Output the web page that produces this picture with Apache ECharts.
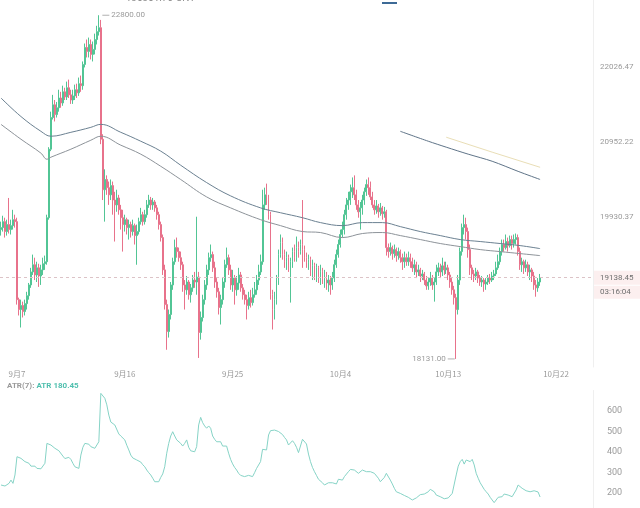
<!DOCTYPE html>
<html><head><meta charset="utf-8">
<script src="https://cdn.jsdelivr.net/npm/echarts@6/dist/echarts.min.js"></script>
<style>html,body{margin:0;padding:0;background:#fff}#c{width:640px;height:508px}</style>
</head><body><div id="c"></div>
<script>
const opens = [
19764,19790,19869,19738,19830,19764,19816,19895,19869,18862,
18738,18788,18713,18812,18912,19048,19214,19306,19175,19266,
19162,19240,19319,19345,19921,20852,21297,21478,21339,21436,
21576,21505,21665,21591,21724,21621,21547,21606,21695,21650,
21783,21754,22064,22315,22256,22360,22212,22286,22434,22552,
22611,20991,20296,20435,20324,20227,20352,20157,20092,20185,
20026,19921,19830,19895,19790,19830,19738,19816,19685,19738,
19869,19961,19869,19961,20092,20157,20092,20131,20052,19961,
19830,19659,19240,18800,18465,18676,19048,19345,19528,19476,
19397,19306,19048,18986,19085,18924,19011,19110,19085,19148,
18453,18639,18862,19048,19240,19397,19437,19266,19085,18961,
18763,18862,19085,19306,19397,19240,19048,19135,18986,19073,
19175,19011,18924,18862,18788,18887,18825,18924,18986,19110,
19214,19345,20092,20227,20157,19961,18924,18738,18862,19110,
19437,19594,19437,19345,19397,19292,19345,19476,19397,19528,
19476,19568,19502,19397,19332,19371,19240,19292,19188,19266,
19162,19214,19135,19175,19073,19110,19048,19135,19306,19437,
19568,19699,19764,19961,20092,20157,20268,20324,20227,20092,
20000,20052,20157,20268,20366,20324,20199,20092,20026,20078,
20000,20052,19974,20000,19528,19476,19528,19450,19502,19424,
19476,19397,19345,19397,19345,19397,19345,19266,19306,19214,
19240,19162,19188,19110,19036,19085,19135,19048,19085,19214,
19266,19214,19292,19240,19266,19175,19085,18986,18887,18738,
19110,19476,19790,19830,19738,19502,19266,19188,19162,19214,
19135,19085,19110,19060,19085,19135,19110,19162,19188,19266,
19345,19476,19568,19528,19607,19554,19633,19581,19633,19659,
19476,19306,19345,19266,19306,19214,19240,19162,19048,19011,
19085];
const closes = [
19790,19869,19738,19830,19764,19816,19895,19869,18862,18738,
18788,18713,18812,18912,19048,19214,19306,19175,19266,19162,
19240,19319,19345,19921,20852,21297,21478,21339,21436,21576,
21505,21665,21591,21724,21621,21547,21606,21695,21650,21783,
21754,22064,22315,22256,22360,22212,22286,22434,22552,22611,
20991,20296,20435,20324,20227,20352,20157,20092,20185,20026,
19921,19830,19895,19790,19830,19738,19816,19685,19738,19869,
19961,19869,19961,20092,20157,20092,20131,20052,19961,19830,
19659,19240,18800,18465,18676,19048,19345,19528,19476,19397,
19306,19048,18986,19085,18924,19011,19110,19085,19148,18453,
18639,18862,19048,19240,19397,19437,19266,19085,18961,18763,
18862,19085,19306,19397,19240,19048,19135,18986,19073,19175,
19011,18924,18862,18788,18887,18825,18924,18986,19110,19214,
19345,20092,20227,20157,19961,18924,18738,18862,19110,19437,
19594,19437,19345,19397,19292,19345,19476,19397,19528,19476,
19568,19502,19397,19332,19371,19240,19292,19188,19266,19162,
19214,19135,19175,19073,19110,19048,19135,19306,19437,19568,
19699,19764,19961,20092,20157,20268,20324,20227,20092,20000,
20052,20157,20268,20366,20324,20199,20092,20026,20078,20000,
20052,19974,20000,19528,19476,19528,19450,19502,19424,19476,
19397,19345,19397,19345,19397,19345,19266,19306,19214,19240,
19162,19188,19110,19036,19085,19135,19048,19085,19214,19266,
19214,19292,19240,19266,19175,19085,18986,18887,18738,19110,
19476,19790,19830,19738,19502,19266,19188,19162,19214,19135,
19085,19110,19060,19085,19135,19110,19162,19188,19266,19345,
19476,19568,19528,19607,19554,19633,19581,19633,19659,19476,
19306,19345,19266,19306,19214,19240,19162,19048,19011,19085,
19138.45];
const lows = [
19685,19738,19659,19685,19712,19699,19764,19790,18800,18664,
18515,18639,18664,18738,18862,19011,19175,19110,19085,19023,
19048,19175,19240,19306,19895,20825,21269,21241,21297,21380,
21436,21464,21547,21547,21576,21491,21491,21547,21576,21606,
21665,21695,22020,22167,22167,22138,22108,22212,22360,22493,
20922,20157,19869,20227,20092,20157,19961,19607,20000,19961,
19764,19476,19738,19699,19633,19659,19685,19568,19306,19699,
19830,19816,19830,19921,20052,20026,20026,20000,19895,19764,
19607,19175,18738,18242,18391,18614,18986,19306,19397,19345,
19240,18961,18738,18924,18862,18825,18961,19011,18924,18143,
18366,18589,18800,18986,19175,19345,19214,19011,18887,18676,
18552,18800,19011,19266,19175,18986,18961,18800,18912,18986,
18961,18862,18800,18614,18738,18763,18788,18887,18924,19048,
19175,19306,20026,20092,19895,18862,18490,18614,18800,19048,
19397,19371,19266,19240,19214,18825,19266,19345,19345,19397,
19437,19266,19345,19266,19240,19162,19110,19110,19085,19073,
19048,19060,19011,18986,18961,18924,18986,19085,19266,19397,
19528,19659,19699,19895,20026,20092,20185,20157,20026,19921,
19764,19961,20092,20213,20227,20157,20052,19961,19974,19921,
19947,19895,19921,19424,19397,19424,19371,19397,19345,19371,
19332,19240,19266,19292,19292,19266,19214,19175,19135,19162,
19085,19110,19048,18986,18986,19036,18986,18837,19048,19162,
19135,19162,19175,19188,19110,19011,18924,18800,18131,18676,
19048,19424,19699,19633,19397,19175,19110,19085,19110,19073,
19036,19023,18961,18986,19048,19060,19085,19110,19162,19240,
19306,19424,19476,19502,19476,19528,19502,19528,19568,19424,
19240,19214,19188,19214,19162,19110,19085,18986,18899,18961,
19036];
const highs = [
19869,19947,19921,19895,20185,19895,20026,19961,19921,18887,
18862,18837,18862,18961,19073,19266,19437,19397,19345,19319,
19306,19397,19424,19961,20880,21380,21621,21547,21519,21695,
21665,21754,21724,21813,21842,21695,21695,21769,21783,21872,
21901,22108,22374,22434,22463,22434,22404,22522,22640,22800,
22729,21061,20574,20491,20407,20435,20407,20268,20296,20227,
20092,20026,19961,19921,19895,19869,19895,19843,19830,19921,
20052,20000,20026,20157,20227,20199,20185,20157,20092,20000,
19869,19699,19306,18862,18738,19085,19397,19633,19659,19528,
19476,19345,19110,19162,19110,19060,19175,19214,19934,19214,
18713,18924,19110,19306,19463,19568,19476,19345,19135,19011,
18924,19135,19371,19528,19437,19306,19240,19175,19162,19266,
19214,19060,18986,18924,18961,18986,19011,19085,19175,19306,
19437,20296,20324,20379,20227,20000,18986,18961,19175,19502,
19699,19659,19502,19476,19437,19397,19528,19568,19672,19607,
19633,20157,19554,19463,19437,19410,19371,19332,19319,19292,
19306,19266,19240,19214,19175,19162,19214,19371,19502,19633,
19764,19869,20026,20185,20268,20366,20463,20491,20296,20157,
20131,20227,20324,20435,20463,20407,20268,20157,20157,20105,
20118,20078,20065,20026,19581,19594,19554,19568,19528,19528,
19502,19450,19476,19450,19476,19450,19397,19371,19345,19306,
19266,19240,19214,19162,19135,19214,19175,19135,19306,19332,
19319,19397,19345,19345,19306,19214,19135,19036,18936,19175,
19528,19843,19961,19921,19790,19568,19306,19240,19266,19240,
19175,19162,19135,19135,19175,19188,19214,19240,19345,19437,
19528,19633,19633,19699,19659,19685,19685,19699,19712,19699,
19528,19397,19371,19371,19345,19306,19266,19214,19110,19135,
19188];
const atr = [
239,238,234,231,247,263,247,288,377,385,
369,361,353,348,345,331,337,331,320,320,
318,312,345,442,450,434,426,418,418,406,
397,380,368,361,374,364,345,328,323,320,
385,423,442,450,438,426,418,418,418,450,
686,686,662,630,580,546,540,532,524,488,
478,481,459,433,410,385,371,364,361,356,
351,338,328,312,299,288,272,255,247,255,
276,293,328,394,442,478,499,478,459,454,
442,429,442,459,423,406,401,401,426,532,
569,543,527,516,527,516,478,462,450,455,
450,429,429,429,394,364,342,325,312,296,
286,280,280,280,286,286,280,299,320,325,
353,413,413,410,483,504,499,507,507,500,
494,485,471,459,434,434,455,442,423,397,
390,462,455,439,390,353,325,304,286,267,
260,250,239,231,250,255,250,244,244,267,
267,263,280,288,304,315,320,312,304,296,
304,312,304,304,296,304,312,296,288,272,
255,247,276,296,288,263,244,223,206,201,
198,192,188,182,179,172,166,169,176,185,
192,198,195,190,206,218,223,206,190,185,
182,176,172,169,176,182,198,206,288,331,
353,364,341,361,369,353,364,337,296,272,
250,234,218,206,195,179,166,153,158,179,
182,182,195,198,190,185,182,190,215,239,
231,223,215,211,208,206,206,211,215,205,
180.45];
const maSlow = [[0,21576],[10,21311],[20,21102],[25,21033],[35,21088],[45,21158],[50,21200],[60,21088],[70,20963],[80,20825],[90,20630],[103,20393],[115,20213],[130,20052],[140,19987],[151,19921],[160,19856],[171,19816],[181,19856],[191,19856],[200,19803],[210,19738],[220,19685],[230,19633],[240,19607],[250,19581],[260,19554],[270,19515]];
const maFast = [[0,21200],[10,20991],[20,20797],[23,20713],[25,20741],[35,20852],[45,20977],[50,21033],[60,20908],[70,20783],[80,20616],[90,20435],[103,20199],[115,20052],[130,19895],[140,19816],[151,19738],[160,19725],[171,19659],[181,19712],[191,19725],[200,19685],[210,19633],[220,19581],[230,19541],[240,19502],[250,19476],[260,19450],[270,19424]];
const trendDark = [[200,21102],[214,20963],[223,20880],[234,20783],[246,20685],[259,20546],[270,20435]];
const trendLight = [[223,21019],[246,20811],[270,20602]];
const xTickLabels = ['9月7','9月16','9月25','10月4','10月13','10月22'];
const priceTickLabels = ['22026.47','20952.22','19930.37'];
const atrTickLabels = [200,300,400,500,600];
const countdown = '03:16:04';
const balanceText = '≈135351.70 CNY';

// 4h candle categories from 9月5 16:00
const nCats = 297;
const cats = [];
const t0 = Date.UTC(2022, 8, 5, 16);
for (let i = 0; i < nCats; i++) {
  const d = new Date(t0 + i * 4 * 3600e3);
  const m = d.getUTCMonth() + 1, dd = d.getUTCDate(), h = d.getUTCHours();
  cats.push(h === 0 ? `${m}月${dd}` : `${m}月${dd} ${h}:00`);
}
const L = Math.log;
const candles = opens.map((o, i) => [L(o), L(closes[i]), L(lows[i]), L(highs[i])]);
const lastPrice = closes[closes.length - 1];
const hiVal = Math.max(...highs), hiIdx = highs.indexOf(hiVal);
const loVal = Math.min(...lows), loIdx = lows.indexOf(loVal);
const toLine = arr => arr.map(p => [cats[p[0]], L(p[1])]);

const chart = echarts.init(document.getElementById('c'));
const grey = '#9a9a9a';
const option = {
  animation: false,
  backgroundColor: '#ffffff',
  textStyle: { fontFamily: 'Roboto, "Noto Sans CJK SC", sans-serif' },
  title: {
    left: 2, top: 377,
    text: '{a|ATR(7): }{b|ATR ' + atr[atr.length - 1].toFixed(2) + '}',
    textStyle: { rich: { a: { color: grey, fontSize: 8 }, b: { color: '#4fbfae', fontSize: 8 } } }
  },
  grid: [
    { left: 0, right: 47, top: 0, height: 367 },
    { left: 0, right: 47, top: 390.5, bottom: 0 }
  ],
  xAxis: [
    { type: 'category', gridIndex: 0, data: cats, boundaryGap: true,
      axisLine: { show: false }, axisTick: { show: false }, splitLine: { show: false },
      axisLabel: { interval: (i, v) => xTickLabels.includes(v), color: grey, fontSize: 8, margin: 3,
        fontFamily: '"Noto Sans CJK SC", sans-serif' } },
    { type: 'category', gridIndex: 1, data: cats, boundaryGap: true,
      axisLine: { show: false }, axisTick: { show: false }, axisLabel: { show: false }, splitLine: { show: false } }
  ],
  yAxis: [
    { type: 'value', gridIndex: 0, position: 'right', min: 9.8, max: 10 + 67 / 1500, interval: 0.05,
      axisLine: { show: true, lineStyle: { color: '#efefef' } }, axisTick: { show: false }, splitLine: { show: false },
      axisLabel: { margin: 7, color: grey, fontSize: 8, showMaxLabel: false,
        formatter: v => { const s = Math.exp(v).toFixed(2); return priceTickLabels.includes(s) ? s : ''; } } },
    { type: 'value', gridIndex: 1, position: 'right', min: 700 - 117.5 / 0.205, max: 700,
      axisLine: { show: true, lineStyle: { color: '#efefef' } }, axisTick: { show: false }, splitLine: { show: false },
      axisLabel: { margin: 14, color: grey, fontSize: 9, customValues: atrTickLabels, formatter: v => String(v) } }
  ],
  series: [
    { type: 'candlestick', xAxisIndex: 0, yAxisIndex: 0, data: candles, barWidth: '70%',
      itemStyle: { color: '#52c595', color0: '#e8728b', borderColor: '#52c595', borderColor0: '#e8728b', borderWidth: 1 },
      markLine: { silent: true, symbol: ['none', 'none'], label: { show: false },
        lineStyle: { color: '#dcc3c7', type: [3, 3], width: 1 }, data: [{ yAxis: L(lastPrice) }] },
      markPoint: { silent: true, data: [
        { coord: [cats[hiIdx], L(hiVal)], symbol: 'rect', symbolSize: [7, 1], symbolOffset: [7, 0],
          itemStyle: { color: '#b0b0b0' },
          label: { show: true, position: 'right', distance: 2, formatter: hiVal.toFixed(2), color: grey, fontSize: 8 } },
        { coord: [cats[loIdx], L(loVal)], symbol: 'rect', symbolSize: [7, 1], symbolOffset: [-5, 0],
          itemStyle: { color: '#b0b0b0' },
          label: { show: true, position: 'left', distance: 2, formatter: loVal.toFixed(2), color: grey, fontSize: 8 } }
      ] } },
    { type: 'line', xAxisIndex: 0, yAxisIndex: 0, data: toLine(maSlow), smooth: 0.4, symbol: 'none',
      lineStyle: { color: '#6b8091', width: 1 } },
    { type: 'line', xAxisIndex: 0, yAxisIndex: 0, data: toLine(maFast), smooth: 0.4, symbol: 'none',
      lineStyle: { color: '#8d9399', width: 1 } },
    { type: 'line', xAxisIndex: 0, yAxisIndex: 0, data: toLine(trendDark), smooth: 0.3, symbol: 'none',
      lineStyle: { color: '#5f7488', width: 1 } },
    { type: 'line', xAxisIndex: 0, yAxisIndex: 0, data: toLine(trendLight), smooth: false, symbol: 'none',
      lineStyle: { color: '#e9deb6', width: 1 } },
    { type: 'line', xAxisIndex: 1, yAxisIndex: 1, data: atr, symbol: 'none',
      lineStyle: { color: '#86d3c6', width: 1 } }
  ]
};
chart.setOption(option);
const yLast = chart.convertToPixel({ yAxisIndex: 0 }, L(lastPrice));
chart.setOption({ graphic: [
  { type: 'rect', shape: { x: 594, y: yLast - 7, width: 46, height: 14 }, style: { fill: '#fcefef' } },
  { type: 'text', style: { text: lastPrice.toFixed(2), x: 600, y: yLast, verticalAlign: 'middle', align: 'left', fill: '#6f6f6f', fontSize: 8, fontFamily: 'Roboto' } },
  { type: 'rect', shape: { x: 594, y: yLast + 8, width: 46, height: 13 }, style: { fill: '#fcefef' } },
  { type: 'text', style: { text: countdown, x: 600, y: yLast + 14.5, verticalAlign: 'middle', align: 'left', fill: '#6f6f6f', fontSize: 8, fontFamily: 'Roboto' } },
  { type: 'text', style: { text: balanceText, x: 120, y: 3, verticalAlign: 'bottom', align: 'left', fill: '#8a8a8a', fontSize: 10, fontFamily: 'Roboto' } },
  { type: 'rect', shape: { x: 382, y: 2, width: 15, height: 2 }, style: { fill: '#3d6a96' } }
] });
</script>
</body></html>
